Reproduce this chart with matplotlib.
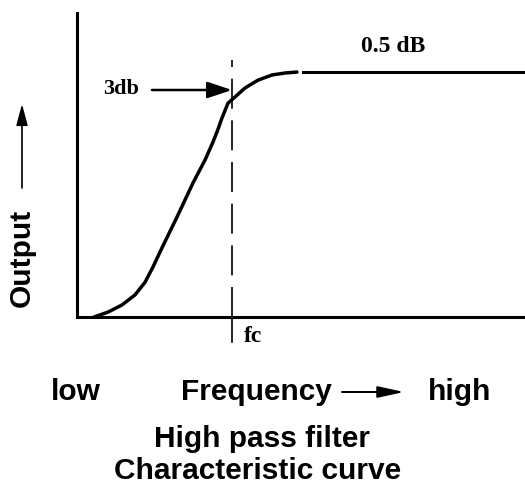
import matplotlib.pyplot as plt

# curve: frequency in units of fc, output relative to the flat level
freq = [0.110, 0.200, 0.290, 0.374, 0.439, 0.490, 0.548, 0.645, 0.748, 0.826,
        0.877, 0.910, 0.935, 0.974, 1.019, 1.084, 1.168, 1.258, 1.342, 1.419]
output = [0.0, 0.020, 0.049, 0.090, 0.142, 0.204, 0.282, 0.408, 0.547, 0.641,
          0.714, 0.767, 0.812, 0.873, 0.898, 0.935, 0.967, 0.988, 0.996, 1.0]
flat_freq = [1.458, 2.89]
flat_output = [1.0, 1.0]
fc = 1.0

H = 487
sans = ['Liberation Sans', 'DejaVu Sans']
serif = ['Liberation Serif', 'DejaVu Serif']

fig = plt.figure(figsize=(5.25, 4.87), dpi=100)
ax = fig.add_axes([77 / 525, 170 / 487, 448 / 525, 304 / 487])
ax.set_xlim(0, 2.89)
ax.set_ylim(0, 1.241)
ax.set_xticks([])
ax.set_yticks([])
for s in ['top', 'right']:
    ax.spines[s].set_visible(False)
for s in ['left', 'bottom']:
    ax.spines[s].set_linewidth(2.2)

ax.plot(freq, output, color='black', lw=2.5, solid_capstyle='round',
        solid_joinstyle='round')
ax.plot(flat_freq, flat_output, color='black', lw=2.2)

# cut-off marker
ax.plot([fc, fc], [0.0, 1.05], color='black', lw=1.2, dashes=(18, 7))
ax.plot([fc, fc], [-0.102, 0.0], color='black', lw=1.2, clip_on=False)

# text around the plot, placed in figure pixels
def t(x, y, s, va='center', **kw):
    fig.text(x / 525, 1 - y / H, s, ha='center', va=va, **kw)

t(393, 46, '0.5 dB', family=serif, fontweight='bold', fontsize=17)
t(121, 89, '3db', family=serif, fontweight='bold', fontsize=16)
t(253, 336, 'fc', family=serif, fontweight='bold', fontsize=17)
t(22, 258, 'Output', family=sans, fontweight='bold', fontsize=21.5, rotation=90)
t(76, 400, 'low', va='baseline', family=sans, fontweight='bold', fontsize=21.5)
t(256, 400, 'Frequency', va='baseline', family=sans, fontweight='bold', fontsize=21.5)
t(460, 400, 'high', va='baseline', family=sans, fontweight='bold', fontsize=21.5)
t(262, 447, 'High pass filter', va='baseline', family=sans, fontweight='bold',
  fontsize=21.5)
t(258, 479, 'Characteristic curve', va='baseline', family=sans, fontweight='bold',
  fontsize=21.5)

def arrow(x0, y0, x1, y1, hl, hw, lw):
    ax.annotate('', xy=(x1, H - y1), xytext=(x0, H - y0), xycoords='figure pixels',
                textcoords='figure pixels',
                arrowprops=dict(arrowstyle=f'-|>,head_length={hl},head_width={hw}',
                                color='black', lw=lw, shrinkA=0, shrinkB=0))

arrow(152, 90, 232, 90, 1.5, 0.5, 1.8)
arrow(342, 392, 404, 392, 1.6, 0.35, 1.4)
arrow(22, 188, 22, 104, 1.3, 0.35, 1.2)

fig.savefig('out.png', dpi=100)
